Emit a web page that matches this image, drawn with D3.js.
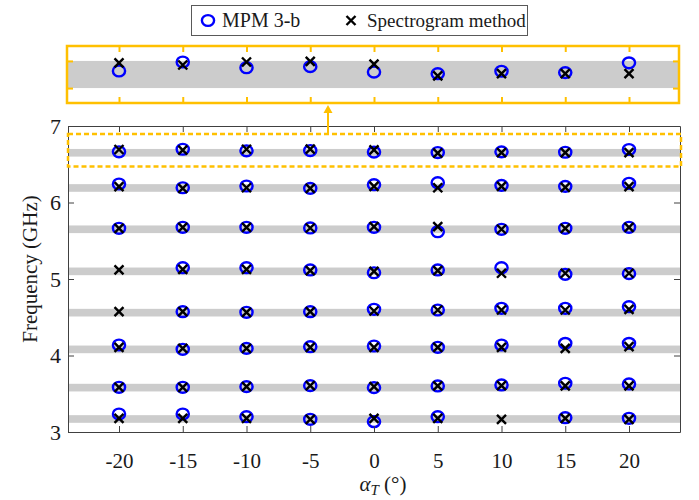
<!DOCTYPE html>
<html>
<head>
<meta charset="utf-8">
<script src="https://cdn.jsdelivr.net/npm/d3@7"></script>
<style>
  body { margin: 0; background: #fff; }
  svg { font-family: 'Liberation Serif', 'Times New Roman', serif; }
</style>
</head>
<body>
<svg id="chart" width="699" height="500"></svg>
<script>
// angles (deg) on the x axis
const angles = [-20, -15, -10, -5, 0, 5, 10, 15, 20];
// centre frequency (GHz) of each grey reference band
const bandCenters = [6.65, 6.19, 5.65, 5.10, 4.56, 4.08, 3.58, 3.17];
const bandHalf = 0.05;

// MPM 3-b estimates, one row per band, one value per angle (null = missing)
const mpmFreq = [
  [6.663, 6.696, 6.675, 6.679, 6.659, 6.653, 6.662, 6.657, 6.693],
  [6.242, 6.193, 6.216, 6.185, 6.233, 6.259, 6.224, 6.211, 6.251],
  [5.663, 5.676, 5.676, 5.667, 5.676, 5.618, 5.650, 5.663, 5.676],
  [null, 5.148, 5.148, 5.118, 5.082, 5.118, 5.148, 5.061, 5.070],
  [null, 4.573, 4.565, 4.573, 4.604, 4.595, 4.617, 4.617, 4.638],
  [4.137, 4.081, 4.093, 4.115, 4.124, 4.107, 4.137, 4.159, 4.159],
  [3.584, 3.584, 3.593, 3.606, 3.580, 3.602, 3.615, 3.637, 3.628],
  [3.235, 3.235, 3.200, 3.166, 3.135, 3.200, null, 3.187, 3.179],
];

// Spectrogram method estimates
const specFreq = [
  [6.693, 6.685, 6.696, 6.698, 6.688, 6.645, 6.653, 6.653, 6.653],
  [6.207, 6.185, 6.193, 6.185, 6.211, 6.193, 6.211, 6.198, 6.207],
  [5.663, 5.676, 5.676, 5.667, 5.684, 5.684, 5.650, 5.663, 5.676],
  [5.118, 5.127, 5.127, 5.109, 5.100, 5.109, 5.075, 5.075, 5.075],
  [4.573, 4.573, 4.565, 4.573, 4.582, 4.595, 4.595, 4.595, 4.604],
  [4.107, 4.093, 4.093, 4.107, 4.107, 4.107, 4.107, 4.093, 4.115],
  [3.584, 3.584, 3.593, 3.606, 3.593, 3.602, 3.606, 3.602, 3.602],
  [3.179, 3.179, 3.179, 3.166, 3.179, 3.179, 3.166, 3.179, 3.166],
];

const xTicks = [-20, -15, -10, -5, 0, 5, 10, 15, 20];
const yTicks = [3, 4, 5, 6, 7];
const insetYTicks = [6.6, 6.7];
const zoomRange = [6.47, 6.895]; // dashed box on the main axes

const axisColor = '#404040';
const orange = '#FFC000';

const svg = d3.select('svg#chart');

// main axes
const plotLeft = 68, plotRight = 680, plotTop = 126, plotBottom = 432;
const xScale = d3.scaleLinear().domain([-24, 24]).range([plotLeft, plotRight]);
const yScale = d3.scaleLinear().domain([3, 7]).range([plotBottom, plotTop]);

// inset axes (zoom on the top band)
const inTop = 46, inBottom = 103;
const yInset = d3.scaleLinear().domain([6.545, 6.755]).range([inBottom, inTop]);

// flatten rows into points
const toPoints = (rows) => {
  const pts = [];
  rows.forEach((row, b) => row.forEach((f, i) => {
    if (f !== null) pts.push({ band: b, a: angles[i], f });
  }));
  return pts;
};
const mpmPts = toPoints(mpmFreq);
const specPts = toPoints(specFreq);

const crossPath = (s) => `M${-s},${-s}L${s},${s}M${-s},${s}L${s},${-s}`;
const plainNum = (d) => String(d); // hyphen minus, no decimals

function drawMarkers(g, pts, yS) {
  g.selectAll('ellipse.mpm')
    .data(pts)
    .enter()
    .append('ellipse')
    .attr('class', 'mpm')
    .attr('cx', (d) => xScale(d.a))
    .attr('cy', (d) => yS(d.f))
    .attr('rx', 6.1)
    .attr('ry', 5.4)
    .attr('fill', 'none')
    .attr('stroke', '#0000ff')
    .attr('stroke-width', 2.4);
}
function drawCrosses(g, pts, yS) {
  g.selectAll('path.spec')
    .data(pts)
    .enter()
    .append('path')
    .attr('class', 'spec')
    .attr('transform', (d) => `translate(${xScale(d.a)},${yS(d.f)})`)
    .attr('d', crossPath(4.5))
    .attr('stroke', '#000')
    .attr('stroke-width', 2.4);
}

// ---- main plot ----
const main = svg.append('g');

main.selectAll('rect.band')
  .data(bandCenters)
  .enter()
  .append('rect')
  .attr('class', 'band')
  .attr('x', plotLeft)
  .attr('width', plotRight - plotLeft)
  .attr('y', (d) => yScale(d + bandHalf))
  .attr('height', (d) => yScale(d - bandHalf) - yScale(d + bandHalf))
  .attr('fill', '#cccccc');

drawMarkers(main, mpmPts, yScale);
drawCrosses(main, specPts, yScale);

// axes with inward ticks
const xAxisGen = d3.axisBottom(xScale).tickValues(xTicks).tickFormat(plainNum)
  .tickSizeInner(-6).tickSizeOuter(0).tickPadding(21);
const xTopGen = d3.axisTop(xScale).tickValues(xTicks).tickSizeInner(-6).tickSizeOuter(0).tickFormat('');
const yAxisGen = d3.axisLeft(yScale).tickValues(yTicks).tickFormat(plainNum)
  .tickSizeInner(-6).tickSizeOuter(0).tickPadding(7);
const yRightGen = d3.axisRight(yScale).tickValues(yTicks).tickSizeInner(-6).tickSizeOuter(0).tickFormat('');

const styleAxis = (g, size) => {
  g.attr('font-family', null).attr('font-size', size);
  g.selectAll('path, line').attr('stroke', axisColor).attr('stroke-width', 1);
  g.selectAll('text').attr('fill', '#1a1a1a');
};

svg.append('g').attr('transform', `translate(0,${plotBottom})`).call(xAxisGen).call((g) => styleAxis(g, 21));
svg.append('g').attr('transform', `translate(0,${plotTop})`).call(xTopGen).call((g) => styleAxis(g, 21));
svg.append('g').attr('transform', `translate(${plotLeft},0)`).call(yAxisGen).call((g) => styleAxis(g, 22));
svg.append('g').attr('transform', `translate(${plotRight},0)`).call(yRightGen).call((g) => styleAxis(g, 22));

// dashed zoom box
svg.append('rect')
  .attr('x', plotLeft)
  .attr('y', yScale(zoomRange[1]))
  .attr('width', plotRight - plotLeft + 1)
  .attr('height', yScale(zoomRange[0]) - yScale(zoomRange[1]))
  .attr('fill', 'none')
  .attr('stroke', orange)
  .attr('stroke-width', 2.5)
  .attr('stroke-dasharray', '5,3');

// arrow up to the inset
const arrowX = 328;
svg.append('line')
  .attr('x1', arrowX).attr('x2', arrowX)
  .attr('y1', yScale(zoomRange[1]) - 1).attr('y2', inBottom + 8)
  .attr('stroke', orange)
  .attr('stroke-width', 2);
svg.append('path')
  .attr('d', `M${arrowX - 4.5},${inBottom + 10}L${arrowX},${inBottom + 2}L${arrowX + 4.5},${inBottom + 10}Z`)
  .attr('fill', orange);

// ---- inset ----
const inset = svg.append('g');
inset.append('rect')
  .attr('x', plotLeft - 1)
  .attr('width', plotRight - plotLeft)
  .attr('y', yInset(bandCenters[0] + bandHalf))
  .attr('height', yInset(bandCenters[0] - bandHalf) - yInset(bandCenters[0] + bandHalf))
  .attr('fill', '#cccccc');

drawMarkers(inset, mpmPts.filter((d) => d.band === 0), yInset);
drawCrosses(inset, specPts.filter((d) => d.band === 0), yInset);

const inX = d3.axisBottom(xScale).tickValues(xTicks).tickSizeInner(-6).tickSizeOuter(0).tickFormat('');
const inXTop = d3.axisTop(xScale).tickValues(xTicks).tickSizeInner(-6).tickSizeOuter(0).tickFormat('');
const inY = d3.axisLeft(yInset).tickValues(insetYTicks).tickSizeInner(-6).tickSizeOuter(0).tickFormat('');
const inYRight = d3.axisRight(yInset).tickValues(insetYTicks).tickSizeInner(-6).tickSizeOuter(0).tickFormat('');
[
  [inX, `translate(0,${inBottom})`],
  [inXTop, `translate(0,${inTop})`],
  [inY, `translate(${plotLeft - 1},0)`],
  [inYRight, `translate(${plotRight - 1},0)`],
].forEach(([gen, tr]) => {
  svg.append('g').attr('transform', tr).call(gen)
    .call((g) => g.selectAll('line').attr('stroke', orange).attr('stroke-width', 2))
    .call((g) => g.select('.domain').remove());
});
svg.append('rect')
  .attr('x', plotLeft - 1)
  .attr('y', inTop)
  .attr('width', plotRight - plotLeft)
  .attr('height', inBottom - inTop)
  .attr('fill', 'none')
  .attr('stroke', orange)
  .attr('stroke-width', 2.5);

// axis labels
svg.append('text')
  .attr('transform', 'translate(30,269) rotate(-90)')
  .attr('text-anchor', 'middle')
  .attr('dy', '0.35em')
  .attr('font-size', 21)
  .attr('fill', '#1a1a1a')
  .text('Frequency (GHz)');

const xl = svg.append('text')
  .attr('x', 383)
  .attr('y', 491)
  .attr('text-anchor', 'middle')
  .attr('font-size', 21)
  .attr('fill', '#1a1a1a');
xl.append('tspan').attr('font-style', 'italic').text('α');
xl.append('tspan').attr('font-style', 'italic').attr('font-size', 15).attr('dy', 4).text('T');
xl.append('tspan').attr('dy', -4).text(' (°)');

// legend
const legend = svg.append('g');
legend.append('rect')
  .attr('x', 191.5).attr('y', 5.5)
  .attr('width', 336).attr('height', 30)
  .attr('fill', '#fff')
  .attr('stroke', '#595959')
  .attr('stroke-width', 1);
legend.append('ellipse')
  .attr('cx', 208).attr('cy', 20.5)
  .attr('rx', 6.1).attr('ry', 5.4)
  .attr('fill', 'none').attr('stroke', '#0000ff').attr('stroke-width', 2.4);
legend.append('text').attr('x', 222).attr('y', 27).attr('font-size', 20).attr('fill', '#1a1a1a').text('MPM 3-b');
legend.append('path')
  .attr('transform', 'translate(351,20.5)')
  .attr('d', crossPath(4.5))
  .attr('stroke', '#000').attr('stroke-width', 2.4);
legend.append('text').attr('x', 367).attr('y', 27).attr('font-size', 19).attr('fill', '#1a1a1a').text('Spectrogram method');
</script>
</body>
</html>
